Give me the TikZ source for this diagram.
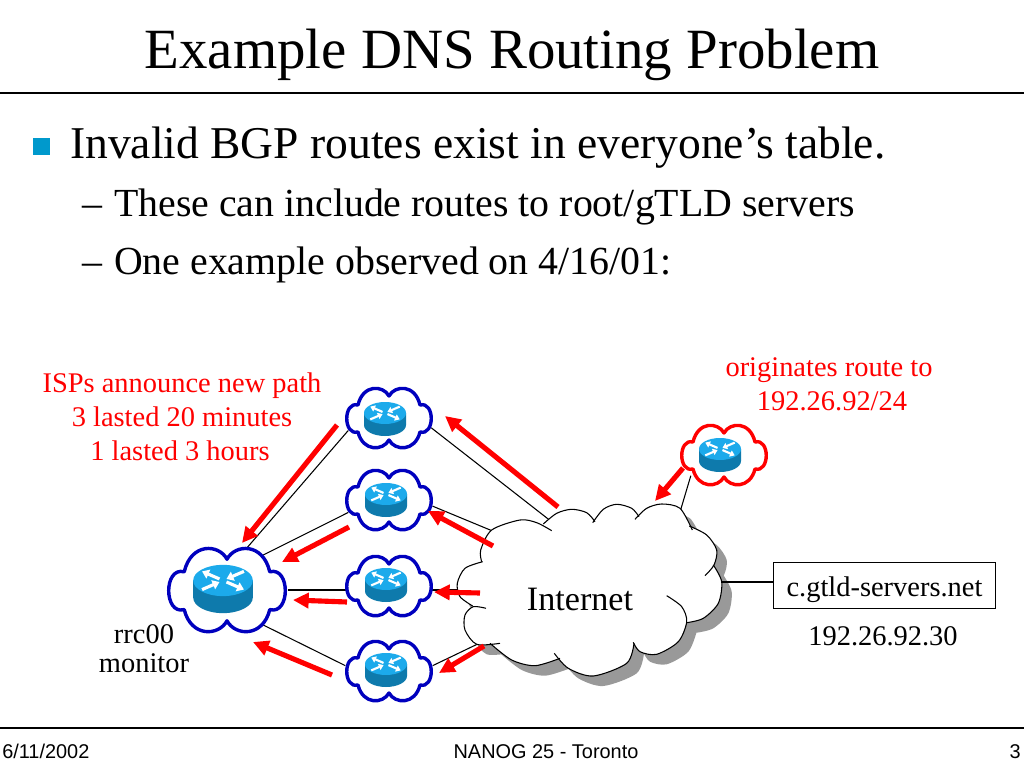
\documentclass[tikz,border=0pt]{standalone}
\usepackage{fontspec}
\setmainfont{Liberation Serif}
\setsansfont{Liberation Sans}
\usepackage{xcolor}
\usepackage{tikz}
\usetikzlibrary{arrows.meta, positioning, calc, backgrounds, shapes.geometric}
\definecolor{cloudblue}{RGB}{0,0,190}
\definecolor{routertop}{RGB}{28,170,235}
\definecolor{routerside}{RGB}{14,122,172}
\definecolor{bulletblue}{RGB}{0,153,204}
\definecolor{shadowgray}{RGB}{153,153,153}
% the router icon and the cloud round it, drawn around their centres
\tikzset{
  pics/routericon/.style={code={
    \fill[routerside] (-21,-6) -- (-21,6) arc[start angle=180, end angle=0, x radius=21, y radius=11] -- (21,-6) -- cycle;
    \fill[routertop] (0,-6) ellipse[x radius=21, y radius=11];
    \foreach \ang in {35,215} {
      \draw[white, line width=#1pt, -{Triangle[length=#1*2.2pt, width=#1*3pt]}, shift={(0,-6)}, yscale=0.62]
        ($(\ang:3)$) -- ($(\ang:18)$);
    }
    \foreach \ang in {145,325} {
      \draw[white, line width=#1pt, {Triangle[length=#1*2.2pt, width=#1*3pt]}-, shift={(0,-6)}, yscale=0.62]
        ($(\ang:3)$) -- ($(\ang:18)$);
    }
  }},
  pics/puffring/.style={code={
    \draw[draw=#1, fill=white, line width=2.4pt, line join=round]
      (0,-22) .. controls (6,-33) and (26,-34) .. (31,-13)
      .. controls (46,-17) and (46,18) .. (31,14)
      .. controls (26,34) and (6,33) .. (0,22)
      .. controls (-6,33) and (-26,34) .. (-31,14)
      .. controls (-46,18) and (-46,-17) .. (-31,-13)
      .. controls (-26,-34) and (-6,-33) .. (0,-22) -- cycle;
  }}
}
\def\arcA{(481.7,561.7) (480.7,550) (491.7,530) (520,520) (536.7,522.7) (551.7,530.7)}
\def\arcB{(543.3,524) (556.7,513.3) (571.7,509.3) (586.7,512.7) (595,521.7)}
\def\arcC{(592.7,522.7) (603.3,509.3) (616.7,504.3) (631.7,508.3) (639,516.7)}
\def\arcD{(635,519.3) (646.7,508.3) (661.7,504) (680,508.3) (692.3,530)}
\def\arcE{(689.3,526) (706.7,535) (716.7,550) (714,565) (705,575.7)}
\def\arcF{(713.3,565) (721.7,581.7) (718.3,603.3) (703.3,618.3) (686.7,622.7)}
\def\arcG{(666.7,595.7) (681.7,606.7) (686.7,621.7) (678.3,641.7) (656.7,654.3) (640,651.7) (633.3,642.3)}
\def\arcH{(634,643.3) (626.7,663.3) (593.3,676) (568.3,668.3) (554.3,653.3)}
\def\arcI{(560,658.3) (535,665.7) (511.7,660) (490,643.3)}
\def\arcJ{(500,643.3) (476.7,644.3) (465,630) (465,615) (473.3,606.7) (486,608.3)}
\def\arcK{(472.7,606) (460,596.7) (457.3,583.3) (465,568.3) (482.7,561.7)}
\def\inetoutline{plot[smooth] coordinates {\arcA} -- plot[smooth] coordinates {\arcB} -- plot[smooth] coordinates {\arcC} -- plot[smooth] coordinates {\arcD} -- plot[smooth] coordinates {\arcE} -- plot[smooth] coordinates {\arcF} -- plot[smooth] coordinates {(686.7,621.7) (678.3,641.7) (656.7,654.3) (640,651.7) (633.3,642.3)} -- plot[smooth] coordinates {\arcH} -- plot[smooth] coordinates {\arcI} -- plot[smooth] coordinates {\arcJ} -- plot[smooth] coordinates {\arcK} -- cycle}

\begin{document}
\begin{tikzpicture}[
  x=0.703125pt, y=-0.703125pt,
  routercloud/.style={ellipse, inner sep=0pt, minimum width=62pt, minimum height=43.6pt},
  bigcloud/.style={routercloud, minimum width=85pt, minimum height=61pt},
  wire/.style={black, line width=0.75pt},
  announce/.style={-{Triangle[length=11pt, width=10.5pt]}, red, line width=3.6pt},
  redlabel/.style={anchor=base, text=red, font=\fontsize{20}{20}\selectfont},
  blacklabel/.style={anchor=base, font=\fontsize{20}{20}\selectfont},
  footer/.style={anchor=base, font=\sffamily\fontsize{14}{14}\selectfont},
  rulebar/.style={black, line width=0.9pt}
]
\useasboundingbox (0,0) rectangle (1024,768);

% heading and bullets
\node[anchor=base, font=\fontsize{40}{40}\selectfont] (title) at (512,69) {Example DNS Routing Problem};
\coordinate (ruleL) at (0,93);
\coordinate (ruleR) at (1024,93);
\draw[rulebar] (ruleL) -- (ruleR);
\fill[bulletblue] (33,138) rectangle (50,155);
\node[anchor=base west, inner sep=0pt, font=\fontsize{32}{32}\selectfont] (lineA) at (70,159) {Invalid BGP routes exist in everyone’s table.};
\node[anchor=base west, inner sep=0pt, font=\fontsize{28}{28}\selectfont] (lineB) at (82,217) {–\kern1.4pt{} These can include routes to root/gTLD servers};
\node[anchor=base west, inner sep=0pt, font=\fontsize{28}{28}\selectfont] (lineC) at (82,275) {–\kern1.4pt{} One example observed on 4/16/01:};

% routers
\node[bigcloud] (rrc) at (227,590) {};
\pic[xscale=1.38, yscale=1.4] at (rrc) {puffring=cloudblue};
\pic[scale=1.42] at (223,589) {routericon=2.2};
\node[routercloud] (isp1) at (389,418) {};
\pic at (isp1) {puffring=cloudblue};
\pic at (385,419) {routericon=1.5};
\node[routercloud] (isp2) at (389,500) {};
\pic at (isp2) {puffring=cloudblue};
\pic at (386,500) {routericon=1.5};
\node[routercloud] (isp3) at (389,586) {};
\pic at (isp3) {puffring=cloudblue};
\pic at (386,585) {routericon=1.5};
\node[routercloud] (isp4) at (389,671) {};
\pic at (isp4) {puffring=cloudblue};
\pic at (386,670) {routericon=1.5};
\node[routercloud] (origin) at (724,455) {};
\pic at (origin) {puffring=red};
\pic at (720,455) {routericon=1.5};

% the Internet cloud
\fill[shadowgray, shift={(10,10)}] \inetoutline;
\fill[white] \inetoutline;
\foreach \puff in {\arcA,\arcB,\arcC,\arcD,\arcE,\arcF,\arcG,\arcH,\arcI,\arcJ,\arcK} {
  \draw[wire] plot[smooth] coordinates {\puff};
}
\node[anchor=base, font=\fontsize{24}{24}\selectfont] (internet) at (580,610) {Internet};

% server box
\node[draw=black, fill=white, line width=0.75pt, anchor=west, minimum width=156pt, minimum height=32pt, text height=14.8pt, text depth=0pt, font=\fontsize{20}{20}\selectfont] (gtld) at (773,585.5) {c.gtld-servers.net};
\node[blacklabel] (addr) at (883,645) {192.26.92.30};
\node[blacklabel] (rrcA) at (144,643) {rrc00};
\node[blacklabel] (rrcB) at (144,672) {monitor};

% labels
\node[redlabel] (ispA) at (182,392) {ISPs announce new path};
\node[redlabel] (ispB) at (182,426) {3 lasted 20 minutes};
\node[redlabel] (ispC) at (180,460) {1 lasted 3 hours};
\node[redlabel] (origA) at (829,376) {originates route to};
\node[redlabel] (origB) at (832,410) {192.26.92/24};

% footer
\coordinate (footL) at (0,728);
\coordinate (footR) at (1024,728);
\draw[rulebar] (footL) -- (footR);
\node[footer, anchor=base west, inner sep=0pt] (date) at (2,758) {6/11/2002};
\node[footer] (venue) at (546,758) {NANOG 25 - Toronto};
\node[footer, anchor=base east, inner sep=0pt] (page) at (1021,758) {3};

% wires, behind the clouds
\coordinate (inetA) at (552,522);
\coordinate (inetB) at (495,532);
\coordinate (inetC) at (462,590);
\coordinate (inetD) at (486,640);
\coordinate (inetE) at (680,512);
\coordinate (inetF) at (722,582);
\begin{scope}[on background layer]
  \draw[wire] (isp1.197) -- (rrc.65);
  \draw[wire] (isp2.197) -- (rrc.44);
  \draw[wire] (rrc.east) -- (inetC);
  \draw[wire] (isp4.173) -- (rrc.-44);
  \draw[wire] (isp1.-13) -- (inetA);
  \draw[wire] (isp2.-8) -- (inetB);
  \draw[wire] (isp4.7) -- (inetD);
  \draw[wire] (origin.212) -- (inetE);
\end{scope}
\draw[wire] (inetF) -- (inetF -| gtld.west);

% announcements
\coordinate (a1s) at (337,425); \coordinate (a1e) at (242,543);
\coordinate (a2s) at (349,527); \coordinate (a2e) at (282,562);
\coordinate (a3s) at (347,602); \coordinate (a3e) at (293,600);
\coordinate (a4s) at (332,675); \coordinate (a4e) at (253,642);
\coordinate (a5s) at (558,507); \coordinate (a5e) at (445,416);
\coordinate (a6s) at (493,546); \coordinate (a6e) at (428,511);
\coordinate (a7s) at (480,593); \coordinate (a7e) at (434,592);
\coordinate (a8s) at (484,646); \coordinate (a8e) at (439,673);
\coordinate (a9s) at (683,468); \coordinate (a9e) at (655,501);
\foreach \n in {1,...,9} {
  \draw[announce] (a\n s) -- (a\n e);
}
\end{tikzpicture}
\end{document}
